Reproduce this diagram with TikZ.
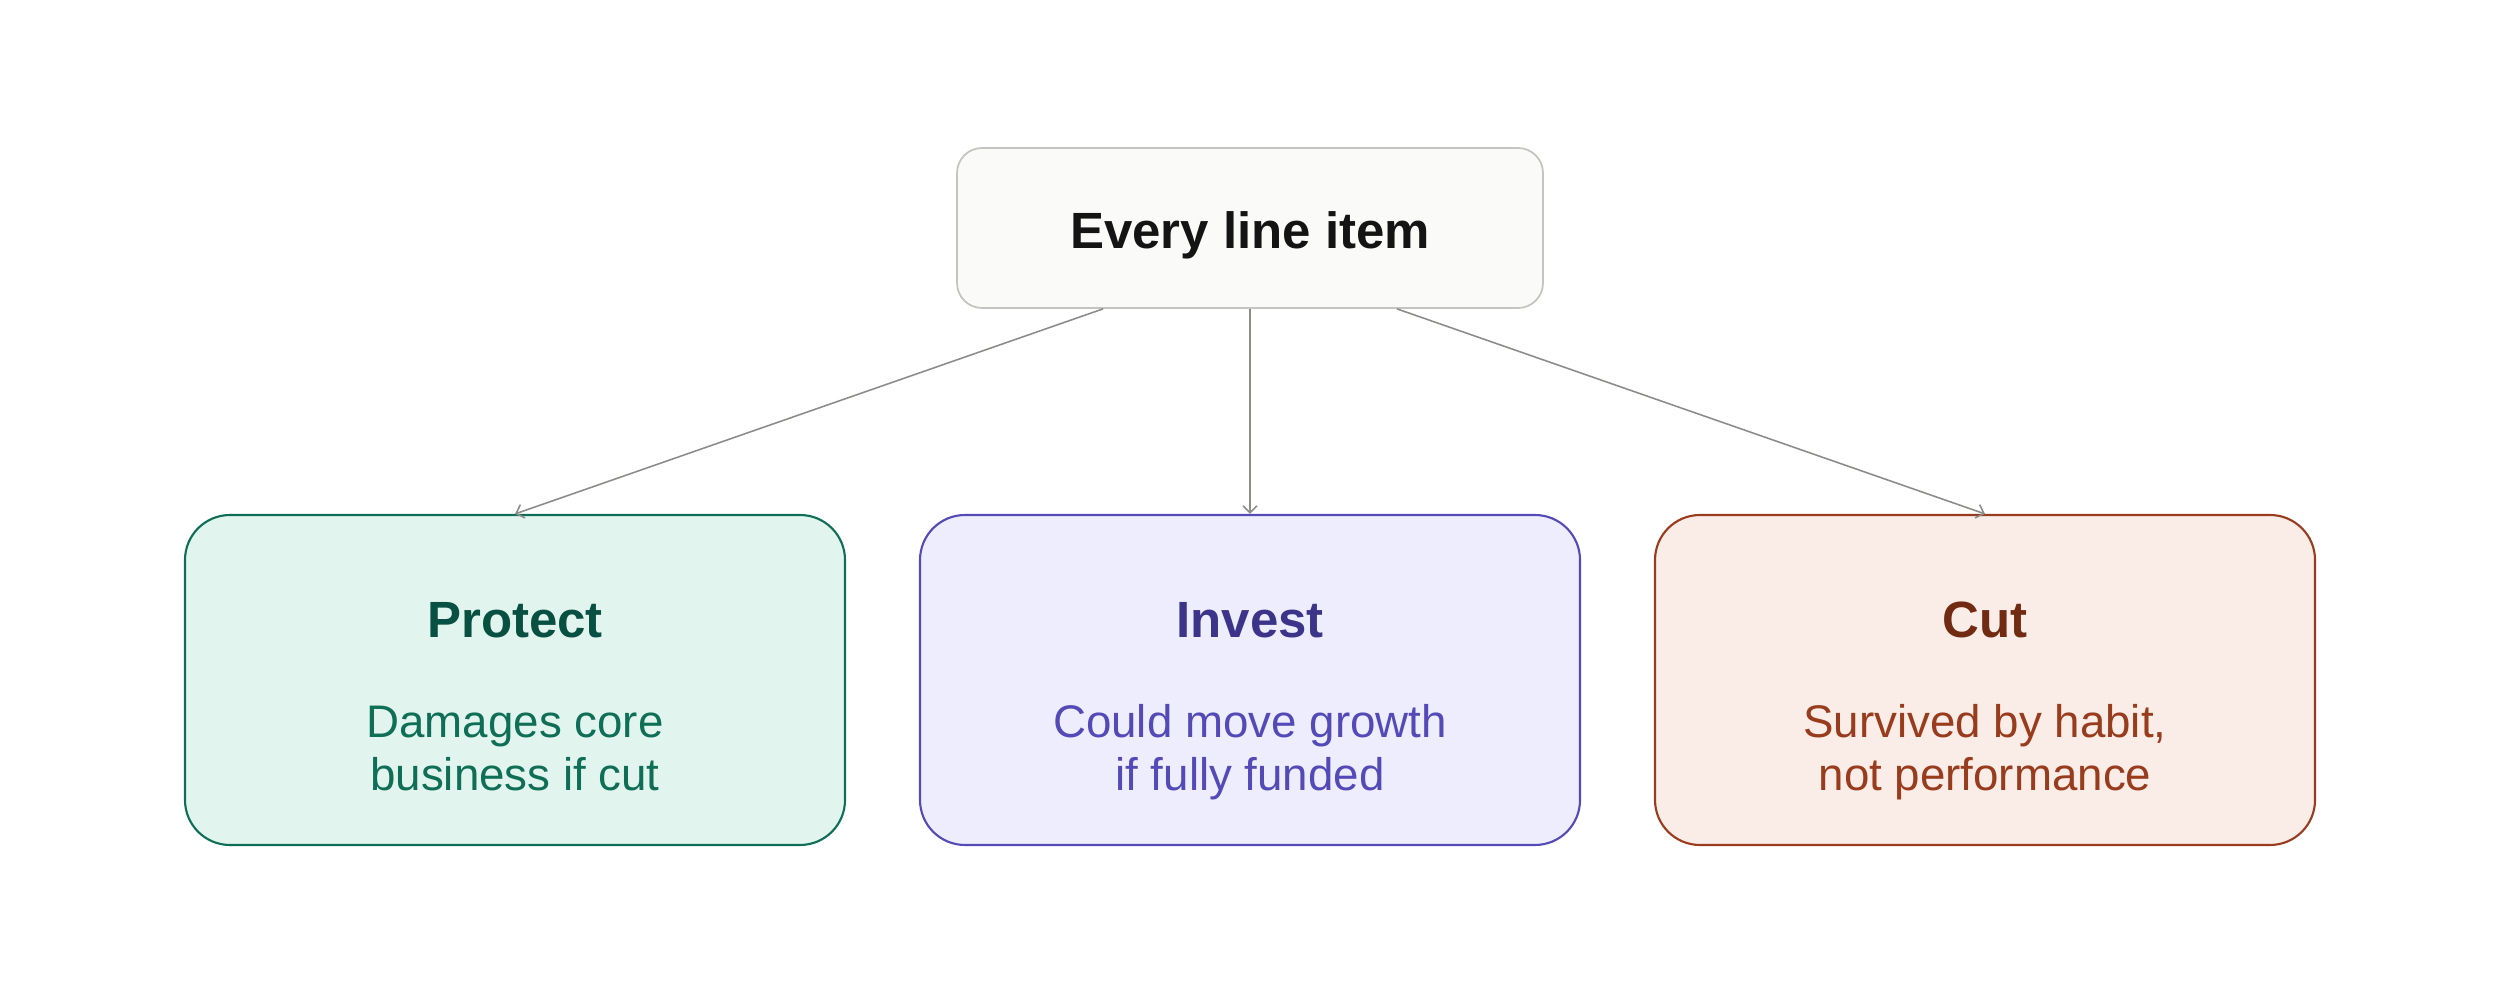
\documentclass[tikz,border=0pt]{standalone}
\usepackage{fontspec}
\setmainfont{Liberation Sans}
\usepackage{xcolor}
\usetikzlibrary{arrows.meta, calc}

\definecolor{topfill}{HTML}{FAFAF8}
\definecolor{topline}{HTML}{C4C4C0}
\definecolor{arrowgray}{HTML}{8C8C8A}
\definecolor{protfill}{HTML}{E1F5EE}
\definecolor{protline}{HTML}{0F6E56}
\definecolor{prothead}{HTML}{085041}
\definecolor{invfill}{HTML}{EEEDFE}
\definecolor{invline}{HTML}{534AB7}
\definecolor{invhead}{HTML}{3C3489}
\definecolor{cutfill}{HTML}{FAECE7}
\definecolor{cutline}{HTML}{993C1D}
\definecolor{cuthead}{HTML}{712B13}

\begin{document}
\begin{tikzpicture}[
    catbox/.style={draw, rounded corners=0.45cm, line width=0.6pt,
        minimum width=6.6cm, minimum height=3.3cm, inner sep=0pt},
    cattitle/.style={anchor=base, font=\fontsize{14.5}{17}\selectfont\bfseries},
    catnote/.style={anchor=base, align=center,
        font=\fontsize{13}{15.2}\selectfont},
    link/.style={arrowgray, line width=0.45pt,
        -{Straight Barb[length=0.7mm, width=1.4mm]}}
]
    \useasboundingbox (0,0) rectangle (25,9.93);

    % root
    \node[draw=topline, fill=topfill, rounded corners=0.25cm, line width=0.5pt,
          minimum width=5.86cm, minimum height=1.6cm] (root) at (12.5,7.65) {};
        \node[cattitle, text=black!92] (rootlabel) at (12.5,7.44) {Every line item};

    % protect
    \node[catbox, draw=protline, fill=protfill] (protect) at (5.15,3.13) {};
        \node[cattitle, text=prothead] (protecttitle) at (5.15,3.55) {Protect};
        \node[catnote, text=protline] (protectnote) at (5.15,2.02)
            {Damages core\\ business if cut};

    % invest
    \node[catbox, draw=invline, fill=invfill] (invest) at (12.5,3.13) {};
        \node[cattitle, text=invhead] (investtitle) at (12.5,3.55) {Invest};
        \node[catnote, text=invline] (investnote) at (12.5,2.02)
            {Could move growth\\ if fully funded};

    % cut
    \node[catbox, draw=cutline, fill=cutfill] (cut) at (19.85,3.13) {};
        \node[cattitle, text=cuthead] (cuttitle) at (19.85,3.55) {Cut};
        \node[catnote, text=cutline] (cutnote) at (19.85,2.02)
            {Survived by habit,\\ not performance};

    % links
    \draw[link] ($(root.south)!0.5!(root.south west)$) -- (protect.north);
    \draw[link] (root.south) -- (invest.north);
    \draw[link] ($(root.south)!0.5!(root.south east)$) -- (cut.north);
\end{tikzpicture}
\end{document}
